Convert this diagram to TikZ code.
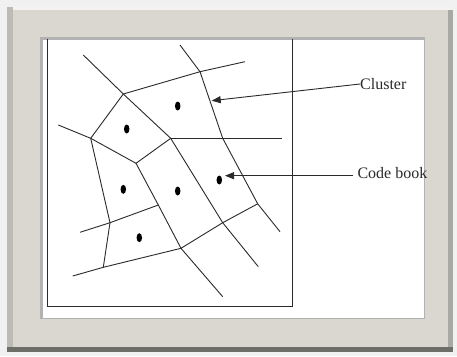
\documentclass[tikz,border=0pt]{standalone}
\usepackage{fontspec}
\setmainfont{Liberation Serif}
\usetikzlibrary{arrows.meta,shapes.geometric}
\definecolor{framegray}{HTML}{D9D7D0}
\definecolor{bevelleft}{HTML}{BDBBB4}
\definecolor{beveldark}{HTML}{6E6E69}
\definecolor{bevelright}{HTML}{A9A8A2}
\definecolor{bgout}{HTML}{F1F1F1}
\definecolor{inkgray}{HTML}{2A2A2A}
\tikzset{
  edge/.style={draw=inkgray, line width=0.9pt},
  boxline/.style={draw=inkgray, line width=1.1pt},
  seed/.style={ellipse, fill=black, inner sep=0pt, minimum width=5.5pt, minimum height=9pt},
  lbl/.style={font=\fontsize{16}{18}\selectfont, text=inkgray, inner sep=0pt, anchor=west},
  pointer/.style={draw=inkgray, line width=0.9pt, -{Triangle[length=9pt,width=7pt]}}
}
\begin{document}
\begin{tikzpicture}[x=1pt,y=-1pt]
\useasboundingbox (0,0) rectangle (457,356);
% background and frame
\fill[bgout] (0,0) rectangle (457,356);
\fill[framegray] (7,7) rectangle (453,352);
\fill[white!70!framegray] (7,7) rectangle (453,10);
\fill[bevelleft] (7,7) rectangle (13,352);
\fill[bevelright] (448,10) rectangle (453,352);
\fill[beveldark] (7,347) rectangle (453,352);
% inner white area with shadow
\fill[gray!60] (40,37) rectangle (425,319);
\fill[white] (43,40) rectangle (424,318);
% the box
\draw[boxline] (47.7,39) -- (47.7,306.7) -- (292.7,306.7) -- (292.7,39);
% Voronoi vertices
\coordinate (A) at (123.3,94);
\coordinate (B) at (200,71.7);
\coordinate (C) at (170.7,138.3);
\coordinate (D) at (90.7,138.3);
\coordinate (E) at (136,163.3);
\coordinate (F) at (110,222.7);
\coordinate (G) at (103.3,267.3);
\coordinate (H) at (158.3,205);
\coordinate (I) at (181,248.3);
\coordinate (J) at (222.7,222.7);
\coordinate (K) at (257.7,203.8);
\coordinate (L) at (222.7,138.3);
% free ends
\coordinate (a1) at (83.3,55);
\coordinate (b1) at (180,45);
\coordinate (b2) at (245,61.7);
\coordinate (k1) at (280,231.7);
\coordinate (c1) at (281.7,138.3);
\coordinate (d1) at (58.3,125);
\coordinate (f1) at (80,232.3);
\coordinate (g1) at (72.7,276);
\coordinate (i1) at (222.7,296.7);
\coordinate (j1) at (258.3,266.7);
% edges
\draw[edge] (a1) -- (A) -- (C);
\draw[edge] (b1) -- (B) -- (L) -- (K) -- (k1);
\draw[edge] (A) -- (B) -- (b2);
\draw[edge] (A) -- (D);
\draw[edge] (d1) -- (D) -- (E) -- (C);
\draw[edge] (C) -- (c1);
\draw[edge] (D) -- (F) -- (G);
\draw[edge] (E) -- (H) -- (I) -- (i1);
\draw[edge] (C) -- (J) -- (j1);
\draw[edge] (f1) -- (F) -- (H);
\draw[edge] (g1) -- (G) -- (I) -- (J) -- (K);
% seeds
\node[seed] (s1) at (177.7,106) {};
\node[seed] (s2) at (126.7,129) {};
\node[seed] (s3) at (123.3,189.3) {};
\node[seed] (s4) at (177.7,191) {};
\node[seed] (s5) at (219.3,180) {};
\node[seed] (s6) at (139.3,237.7) {};
% labels
\node[lbl] (cluster) at (360,84) {Cluster};
\node[lbl] (codebook) at (357.3,173.5) {Code book};
\coordinate (clusterTip) at (211.7,100.7);
\coordinate (codeTip) at (225,175.7);
\draw[pointer] (cluster.west) -- (clusterTip);
\draw[pointer] ([xshift=-4pt]codebook.west |- codeTip) -- (codeTip);
\end{tikzpicture}
\end{document}
